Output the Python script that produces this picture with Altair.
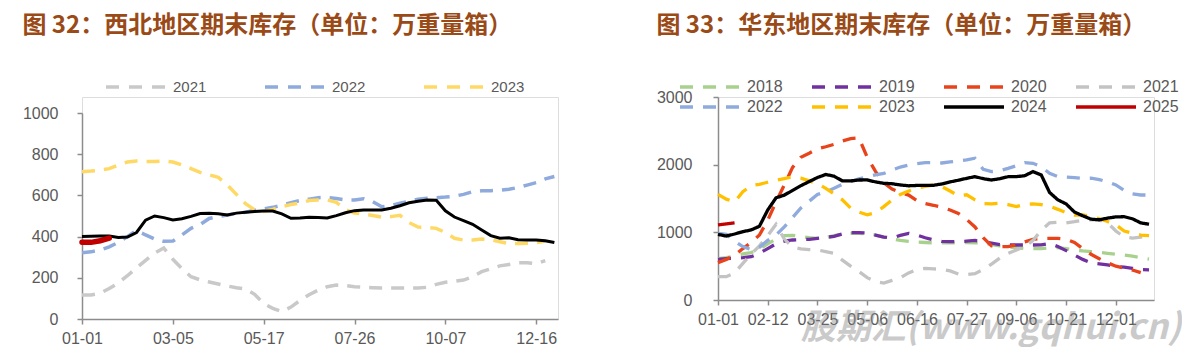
import altair as alt
import pandas as pd

FONT = "Liberation Sans"
CJK = "Noto Sans CJK SC"
TITLE_COLOR = "#9A4A16"
AX = "#8C8C8C"
LAB = "#595959"

# ---------------- 西北地区 (left) ----------------
nw_title = "图 32：西北地区期末库存（单位：万重量箱）"
nw_ticks = ["01-01", "03-05", "05-17", "07-26", "10-07", "12-16"]  # every 10th point
nw_years = ["2021", "2022", "2023"]
nw_colors = ["#C9C9C9", "#8FAADC", "#FFD966"]
nw_2021 = [117, 117, 125, 148, 175, 210, 248, 285, 320, 345, 290, 245, 205, 190, 180, 170,
           160, 152, 146, 120, 75, 52, 36, 58, 90, 118, 140, 157, 165, 162, 157, 154, 152,
           150, 150, 150, 150, 150, 154, 168, 178, 183, 189, 205, 230, 244, 258, 265, 273,
           273, 268, 283]
nw_2022 = [322, 326, 335, 350, 372, 400, 430, 408, 388, 377, 378, 408, 440, 458, 488, 497,
           505, 512, 518, 528, 535, 542, 552, 565, 575, 582, 589, 590, 585, 578, 578, 584,
           570, 545, 550, 562, 572, 582, 586, 589, 592, 596, 605, 618, 622, 623, 625, 630,
           638, 650, 662, 680, 692]
nw_2023 = [715, 718, 722, 730, 748, 762, 767, 765, 765, 767, 762, 748, 730, 712, 700, 688,
           650, 605, 560, 530, 522, 532, 545, 556, 563, 575, 578, 578, 566, 530, 515, 510,
           502, 495, 497, 503, 468, 446, 445, 440, 420, 392, 383, 383, 388, 385, 375, 366,
           366, 368, 370, 378]
nw_2024 = [400, 402, 403, 403, 396, 398, 420, 480, 500, 492, 481, 487, 498, 512, 513, 511,
           505, 514, 518, 522, 524, 524, 510, 489, 490, 494, 493, 490, 502, 516, 526, 529,
           529, 529, 538, 550, 564, 572, 578, 576, 525, 495, 478, 460, 432, 405, 392, 394,
           385, 384, 383, 380, 371]
nw_2025 = [372, 372, 380, 393]

# ---------------- 华东地区 (right) ----------------
ec_title = "图 33：华东地区期末库存（单位：万重量箱）"
ec_ticks = ["01-01", "02-12", "03-25", "05-06", "06-16", "07-27", "09-06", "10-21", "12-01"]  # every 6th
ec_years = ["2018", "2019", "2020", "2021", "2022", "2023", "2024", "2025"]
ec_colors = ["#A9D18E", "#7030A0", "#E8431A", "#C3C3C3", "#8FAADC", "#FFC000", "#000000", "#C00000"]
ec_dash = [[13, 10]] * 6 + [[1, 0], [1, 0]]
ec_2018 = [610, 625, 650, 680, 700, 750, 830, 900, 950, 955, 940, 920, 910, 920, 950, 975,
           985, 985, 980, 960, 930, 900, 880, 865, 855, 850, 845, 845, 845, 845, 850, 845,
           840, 820, 800, 785, 770, 760, 760, 760, 770, 775, 760, 740, 725, 715, 705, 690,
           675, 665, 650, 625, 605]
ec_2019 = [600, 612, 620, 625, 640, 690, 760, 830, 870, 887, 892, 897, 912, 925, 940, 975,
           995, 995, 990, 960, 930, 915, 955, 985, 960, 920, 890, 865, 862, 862, 870, 880,
           860, 840, 820, 813, 813, 813, 813, 815, 835, 790, 730, 665, 600, 550, 535, 520,
           495, 485, 468, 450, 445]
ec_2020 = [552, 600, 660, 760, 850, 960, 1180, 1450, 1700, 1960, 2110, 2170, 2235, 2265, 2300,
           2350, 2385, 2395, 2110, 1900, 1730, 1640, 1590, 1550, 1470, 1425, 1400, 1370, 1330,
           1280, 1190, 1080, 920, 800, 788, 790, 815, 860, 895, 910, 912, 910, 900, 850, 760,
           675, 610, 550, 500, 470, 443, 404]
ec_2021 = [345, 345, 400, 540, 680, 800, 950, 1120, 900, 780, 755, 745, 740, 715, 690, 590,
           500, 420, 330, 270, 250, 290, 330, 400, 450, 468, 460, 453, 430, 385, 375, 390,
           450, 530, 620, 690, 740, 790, 880, 1030, 1140, 1150, 1140, 1158, 1180, 1187, 1180,
           1140, 1020, 930, 915, 930, 940]
ec_2022 = [985, 970, 870, 790, 745, 780, 880, 960, 1080, 1220, 1360, 1460, 1560, 1600, 1650,
           1710, 1750, 1790, 1820, 1850, 1870, 1920, 1965, 1995, 2015, 2030, 2030, 2025, 2040,
           2055, 2070, 2095, 1930, 1897, 1910, 1946, 1985, 2030, 2020, 1970, 1872, 1823, 1815,
           1808, 1795, 1800, 1780, 1745, 1700, 1620, 1570, 1552, 1552]
ec_2023 = [1560, 1490, 1450, 1600, 1690, 1710, 1740, 1770, 1795, 1820, 1800, 1760, 1720, 1650,
           1570, 1480, 1360, 1300, 1260, 1290, 1380, 1480, 1560, 1610, 1650, 1680, 1700, 1675,
           1610, 1540, 1555, 1480, 1425, 1420, 1430, 1410, 1380, 1415, 1420, 1410, 1385, 1340,
           1290, 1256, 1258, 1235, 1200, 1160, 1110, 1020, 985, 960, 950]
ec_2024 = [970, 945, 975, 1010, 1035, 1090, 1330, 1510, 1550, 1620, 1690, 1750, 1810, 1855,
           1830, 1760, 1760, 1773, 1775, 1745, 1725, 1718, 1700, 1688, 1693, 1695, 1695, 1715,
           1745, 1770, 1798, 1823, 1793, 1773, 1793, 1822, 1823, 1837, 1897, 1847, 1590, 1480,
           1420, 1300, 1245, 1195, 1185, 1210, 1228, 1231, 1200, 1140, 1120]
ec_2025 = [1110, 1125, 1140]
watermark = "股期汇(www.gqhui.cn)"


def long_df(years, series):
    rows = []
    for y, vals in zip(years, series):
        for i, v in enumerate(vals):
            rows.append({"idx": i, "value": v, "year": y})
    return pd.DataFrame(rows)


def label_expr(ticks, step):
    arr = "[" + ",".join("'%s'" % t for t in ticks) + "]"
    return "%s[round(datum.value/%d)]" % (arr, step)


axis_common = dict(title=None, grid=False, domainColor=AX, tickColor=AX, domainWidth=1.5,
                   tickWidth=1.5, tickSize=5, labelColor=LAB, labelFont=FONT, labelFontSize=16)

# ---- left panel ----
nw_df = long_df(nw_years, [nw_2021, nw_2022, nw_2023])
nw_black = pd.DataFrame({"idx": list(range(len(nw_2024))), "value": nw_2024})
nw_red = pd.DataFrame({"idx": list(range(len(nw_2025))), "value": nw_2025})

nx = alt.X("idx:Q", scale=alt.Scale(domain=[0, 52.4], nice=False, zero=False),
           axis=alt.Axis(values=[0, 10, 20, 30, 40, 50], labelExpr=label_expr(nw_ticks, 10),
                         labelPadding=6, labelFlush=False, **axis_common))
ny = alt.Y("value:Q", scale=alt.Scale(domain=[0, 1000], range=[222, 16], nice=False),
           axis=alt.Axis(values=[0, 200, 400, 600, 800, 1000], format="d", labelPadding=19,
                         **axis_common))

nw_lines = alt.Chart(nw_df).mark_line(strokeWidth=3.5, strokeDash=[13, 9]).encode(
    x=nx, y=ny,
    color=alt.Color("year:N", scale=alt.Scale(domain=nw_years, range=nw_colors),
                    legend=alt.Legend(orient="none", legendX=22, legendY=-18, direction="horizontal",
                                      columns=3, title=None, symbolType="stroke", symbolSize=3600,
                                      symbolStrokeWidth=3.5, symbolDash=[13, 10], clipHeight=16,
                                      labelFontSize=15, labelColor=LAB, labelFont=FONT,
                                      labelOffset=5, columnPadding=56, padding=0)),
)
nw_l24 = alt.Chart(nw_black).mark_line(strokeWidth=3, color="#000000").encode(x=nx, y=ny)
nw_l25 = alt.Chart(nw_red).mark_line(strokeWidth=5.5, color="#C00000", strokeCap="round").encode(x=nx, y=ny)

left = alt.layer(nw_lines, nw_l24, nw_l25).properties(
    width=476, height=222,
    title=alt.TitleParams(nw_title, anchor="start", frame="bounds", font=CJK, fontSize=24,
                          fontWeight="bold", color=TITLE_COLOR, offset=41),
)

# ---- right panel ----
ec_df = long_df(ec_years, [ec_2018, ec_2019, ec_2020, ec_2021, ec_2022, ec_2023, ec_2024, ec_2025])

ex = alt.X("idx:Q", scale=alt.Scale(domain=[0, 52.6], nice=False, zero=False),
           axis=alt.Axis(values=[0, 6, 12, 18, 24, 30, 36, 42, 48], labelExpr=label_expr(ec_ticks, 6),
                         labelPadding=6, labelFlush=False, **axis_common))
ey = alt.Y("value:Q", scale=alt.Scale(domain=[0, 3000], nice=False),
           axis=alt.Axis(values=[0, 1000, 2000, 3000], format="d", labelPadding=21, **axis_common))

ec_legend = alt.Legend(orient="none", legendX=-40, legendY=-18, direction="horizontal", columns=4,
                       title=None, symbolType="stroke", symbolSize=3600, symbolStrokeWidth=3.5,
                       clipHeight=16, labelFontSize=16, labelColor=LAB, labelFont=FONT,
                       labelOffset=5, columnPadding=27, rowPadding=4, padding=0)

ec_lines = alt.Chart(ec_df).mark_line(strokeWidth=3.3).encode(
    x=ex, y=ey,
    color=alt.Color("year:N", scale=alt.Scale(domain=ec_years, range=ec_colors), legend=ec_legend),
    strokeDash=alt.StrokeDash("year:N", scale=alt.Scale(domain=ec_years, range=ec_dash), legend=ec_legend),
)
wm = alt.Chart(pd.DataFrame({"t": [watermark]})).mark_text(
    font=CJK, fontSize=35, fontStyle="italic", fontWeight="bold", color="#8C8C8C", opacity=0.45,
).encode(text="t:N", x=alt.value(273), y=alt.value(231))

right = alt.layer(ec_lines, wm).properties(
    width=436, height=203,
    title=alt.TitleParams(ec_title, anchor="start", frame="bounds", font=CJK, fontSize=24,
                          fontWeight="bold", color=TITLE_COLOR, offset=41),
)

chart = alt.hconcat(left, right, spacing=93).resolve_scale(
    color="independent", strokeDash="independent", x="independent", y="independent"
).resolve_legend(color="independent", strokeDash="independent").properties(
    padding={"top": 5, "left": 13, "right": 0, "bottom": 0}
).configure_view(stroke=None).configure(background="white")

chart.save("out.html", embed_options={"renderer": "svg", "actions": False})
